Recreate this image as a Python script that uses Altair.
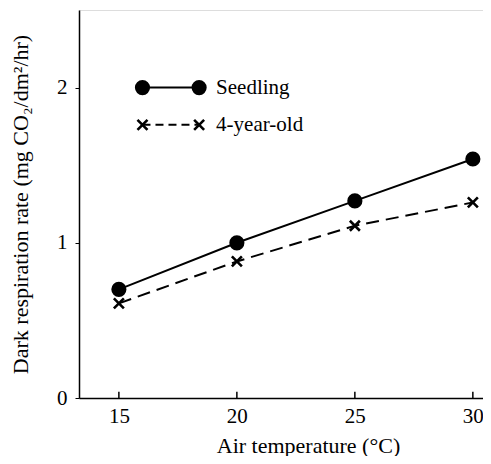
import altair as alt
import pandas as pd

temps = [15, 20, 25, 30]
seedling = [0.70, 1.00, 1.27, 1.54]
four_year = [0.61, 0.88, 1.11, 1.26]
series_names = ["Seedling", "4-year-old"]

# legend (drawn inside the plot, in data coordinates)
legend_x = [16.0, 18.4]
legend_text_x = 19.12
legend_y = [2.0, 1.76]

df = pd.DataFrame({
    "temp": temps * 2,
    "rate": seedling + four_year,
    "series": [series_names[0]] * 4 + [series_names[1]] * 4,
})

leg = pd.DataFrame({
    "x": legend_x * 2,
    "y": [legend_y[0]] * 2 + [legend_y[1]] * 2,
    "series": [series_names[0]] * 2 + [series_names[1]] * 2,
})
leg_text = pd.DataFrame({"x": [legend_text_x] * 2, "y": legend_y, "label": series_names})
ticks = pd.DataFrame({"t": temps, "y0": [0] * 4, "y1": [0.04] * 4})

FONT = "Liberation Serif, DejaVu Serif, serif"
xs = alt.Scale(domain=[13.31, 30.43], nice=False, zero=False)
ys = alt.Scale(domain=[0, 2.5], nice=False)

X = alt.X("temp:Q", scale=xs, axis=alt.Axis(
    values=temps, format="d", title="Air temperature (°C)", tickSize=0, grid=False,
    labelPadding=7, titlePadding=9, titleX=229, domainColor="black", domainWidth=1.5,
    labelFont=FONT, titleFont=FONT, labelFontSize=21, titleFontSize=22,
    labelColor="black", titleColor="black", titleFontWeight="normal"))
Y = alt.Y("rate:Q", scale=ys, axis=alt.Axis(
    values=[0, 1, 2], format="d", title="Dark respiration rate (mg CO₂/dm²/hr)", tickSize=4,
    tickColor="black", grid=False, labelPadding=8, titlePadding=24,
    domainColor="black", domainWidth=1.5,
    labelFont=FONT, titleFont=FONT, labelFontSize=21, titleFontSize=22,
    labelColor="black", titleColor="black", titleFontWeight="normal"))

xpath = "M-1,-1L1,1M-1,1L1,-1"

base = alt.Chart(df)
line_s = base.transform_filter(alt.datum.series == "Seedling").mark_line(
    color="black", strokeWidth=2).encode(x=X, y=Y)
pts_s = base.transform_filter(alt.datum.series == "Seedling").mark_point(
    shape="circle", filled=True, color="black", size=230, opacity=1).encode(x=X, y=Y)
line_f = base.transform_filter(alt.datum.series == "4-year-old").mark_line(
    color="black", strokeWidth=2, strokeDash=[13, 7]).encode(x=X, y=Y)
pts_f = base.transform_filter(alt.datum.series == "4-year-old").mark_point(
    shape=xpath, filled=False, color="black", size=100, strokeWidth=2.6, opacity=1).encode(x=X, y=Y)

tick_layer = alt.Chart(ticks).mark_rule(color="black", strokeWidth=1.5).encode(
    x=alt.X("t:Q", scale=xs), y=alt.Y("y0:Q", scale=ys), y2="y1:Q")

lb = alt.Chart(leg)
lg_line_s = lb.transform_filter(alt.datum.series == "Seedling").mark_line(
    color="black", strokeWidth=2).encode(x=alt.X("x:Q", scale=xs), y=alt.Y("y:Q", scale=ys))
lg_pts_s = lb.transform_filter(alt.datum.series == "Seedling").mark_point(
    shape="circle", filled=True, color="black", size=230, opacity=1).encode(
    x=alt.X("x:Q", scale=xs), y=alt.Y("y:Q", scale=ys))
lg_line_f = lb.transform_filter(alt.datum.series == "4-year-old").mark_line(
    color="black", strokeWidth=2, strokeDash=[8, 5]).encode(x=alt.X("x:Q", scale=xs), y=alt.Y("y:Q", scale=ys))
lg_pts_f = lb.transform_filter(alt.datum.series == "4-year-old").mark_point(
    shape=xpath, filled=False, color="black", size=100, strokeWidth=2.6, opacity=1).encode(
    x=alt.X("x:Q", scale=xs), y=alt.Y("y:Q", scale=ys))
lg_text = alt.Chart(leg_text).mark_text(
    align="left", baseline="middle", font=FONT, fontSize=21, color="black").encode(
    x=alt.X("x:Q", scale=xs), y=alt.Y("y:Q", scale=ys), text="label:N")

chart = alt.layer(
    tick_layer, line_f, pts_f, line_s, pts_s,
    lg_line_s, lg_pts_s, lg_line_f, lg_pts_f, lg_text
).properties(
    width=404, height=388,
    autosize=alt.AutoSizeParams(type="none"),
    padding={"left": 71, "top": 2, "right": 0, "bottom": 58},
).configure_view(stroke=None).configure(background="white")

chart.save("out.html", embed_options={"renderer": "svg", "actions": False})
